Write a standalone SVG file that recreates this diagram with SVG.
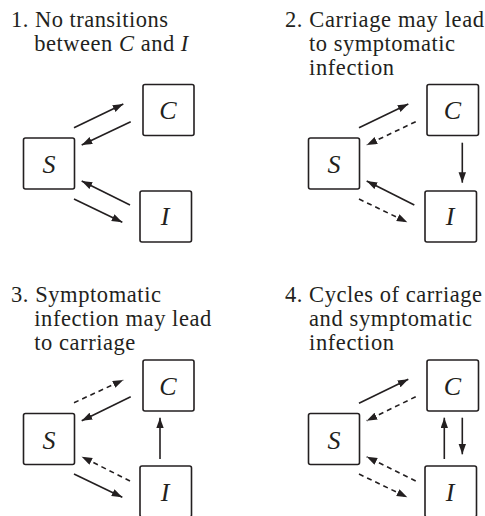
<svg xmlns="http://www.w3.org/2000/svg" width="485" height="516" viewBox="0 0 485 516">
<style>
.t{font-family:"Liberation Serif",serif;font-size:22.5px;fill:#231f20}
.n{font-family:"Liberation Serif",serif;font-size:26px;font-style:italic;fill:#231f20;text-anchor:middle}
.b{fill:#fff;stroke:#231f20;stroke-width:1.6}
.a{stroke:#231f20;stroke-width:1.6;fill:none;marker-end:url(#ah)}
.d{stroke-dasharray:5 4}
</style>
<defs>
<marker id="ah" markerUnits="userSpaceOnUse" markerWidth="11" markerHeight="8" refX="10.5" refY="3.75" orient="auto">
<path d="M0,0 L10.5,3.75 L0,7.5 z" fill="#231f20"/>
</marker>
</defs>
<rect width="485" height="516" fill="#fff"/>
<g id="titles">
<text class="t" x="11" y="27" textLength="157" lengthAdjust="spacing">1. No transitions</text>
<text class="t" x="34.3" y="51" textLength="154" lengthAdjust="spacing">between <tspan font-style="italic">C</tspan> and <tspan font-style="italic">I</tspan></text>
<text class="t" x="285" y="27" textLength="199" lengthAdjust="spacing">2. Carriage may lead</text>
<text class="t" x="309" y="51" textLength="146" lengthAdjust="spacing">to symptomatic</text>
<text class="t" x="309" y="75" textLength="85" lengthAdjust="spacing">infection</text>
<text class="t" x="11" y="302" textLength="150" lengthAdjust="spacing">3. Symptomatic</text>
<text class="t" x="34.3" y="326" textLength="177" lengthAdjust="spacing">infection may lead</text>
<text class="t" x="34.3" y="350" textLength="101" lengthAdjust="spacing">to carriage</text>
<text class="t" x="285" y="302" textLength="197" lengthAdjust="spacing">4. Cycles of carriage</text>
<text class="t" x="309" y="326" textLength="163" lengthAdjust="spacing">and symptomatic</text>
<text class="t" x="309" y="350" textLength="85" lengthAdjust="spacing">infection</text>
</g>

<g id="S1"><rect class="b" x="23.5" y="138" width="51" height="51" rx="2"/><text class="n" x="49" y="173">S</text></g>
<g id="C1"><rect class="b" x="143" y="84.5" width="51" height="51" rx="2"/><text class="n" x="168" y="119">C</text></g>
<g id="I1"><rect class="b" x="140" y="191" width="51.5" height="51" rx="2"/><text class="n" x="165" y="225">I</text></g>

<g id="S2"><rect class="b" x="308.5" y="138" width="51" height="51" rx="2"/><text class="n" x="334" y="173">S</text></g>
<g id="C2"><rect class="b" x="427" y="84.5" width="51.5" height="51" rx="2"/><text class="n" x="452.5" y="119">C</text></g>
<g id="I2"><rect class="b" x="425" y="191" width="51.5" height="51" rx="2"/><text class="n" x="450" y="225">I</text></g>

<g id="S3"><rect class="b" x="23.5" y="413.5" width="51" height="51" rx="2"/><text class="n" x="49" y="448.5">S</text></g>
<g id="C3"><rect class="b" x="143" y="360" width="51" height="51" rx="2"/><text class="n" x="168" y="394.5">C</text></g>
<g id="I3"><rect class="b" x="140" y="466" width="51.5" height="51" rx="2"/><text class="n" x="165" y="500.5">I</text></g>

<g id="S4"><rect class="b" x="308.5" y="413.5" width="51" height="51" rx="2"/><text class="n" x="334" y="448.5">S</text></g>
<g id="C4"><rect class="b" x="427" y="360" width="51.5" height="51" rx="2"/><text class="n" x="452.5" y="394.5">C</text></g>
<g id="I4"><rect class="b" x="425" y="466" width="51.5" height="51" rx="2"/><text class="n" x="450" y="500.5">I</text></g>

<g id="connectors">
<line class="a" x1="74" y1="127.7" x2="123.3" y2="104"/>
<line class="a" x1="130.7" y1="121.7" x2="81.7" y2="145"/>
<line class="a" x1="130" y1="205" x2="81.7" y2="181"/>
<line class="a" x1="74" y1="199" x2="122.3" y2="222.3"/>

<line class="a" x1="359" y1="127.7" x2="408.3" y2="104"/>
<line class="a d" x1="415.7" y1="121.7" x2="366.7" y2="145"/>
<line class="a" x1="462.3" y1="142.7" x2="462.3" y2="182.7"/>
<line class="a" x1="414.3" y1="205" x2="366.7" y2="181"/>
<line class="a d" x1="359" y1="199" x2="407.3" y2="222.3"/>

<line class="a d" x1="74" y1="402.7" x2="123.3" y2="380"/>
<line class="a" x1="130.7" y1="396.7" x2="81.7" y2="420.7"/>
<line class="a" x1="160" y1="459" x2="160" y2="417.7"/>
<line class="a d" x1="130" y1="481" x2="81.7" y2="456.7"/>
<line class="a" x1="74" y1="474" x2="122.3" y2="497.3"/>

<line class="a" x1="359" y1="403.3" x2="408.3" y2="379.3"/>
<line class="a d" x1="415.7" y1="396.7" x2="366.7" y2="420.7"/>
<line class="a" x1="444.3" y1="459" x2="444.3" y2="417.7"/>
<line class="a" x1="462.3" y1="417.7" x2="462.3" y2="454.3"/>
<line class="a d" x1="415.7" y1="481" x2="366.7" y2="456.7"/>
<line class="a d" x1="359" y1="474" x2="407.3" y2="497.3"/>
</g>
</svg>
